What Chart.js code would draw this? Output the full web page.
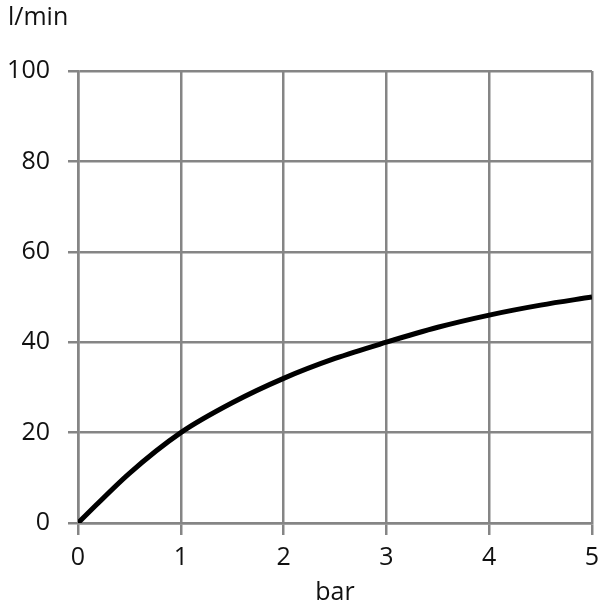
<!DOCTYPE html>
<html>
<head>
<meta charset="utf-8">
<script src="https://cdn.jsdelivr.net/npm/chart.js@4"></script>
<style>
  html, body { margin: 0; padding: 0; background: #fff; }
  #wrap { width: 600px; height: 608px; }
</style>
</head>
<body>
<div id="wrap"><canvas id="flow-chart" width="600" height="608"></canvas></div>
<script>
const pressure = [0, 0.5, 1, 1.5, 2, 2.5, 3, 3.5, 4, 4.5, 5];
const flow = [0, 11, 20, 26.6, 32, 36.4, 40, 43.3, 46, 48.2, 50];
const xTitle = 'bar';
const yTitle = 'l/min';

const gridColor = '#858585';
const font = { family: "'Open Sans', 'Liberation Sans', sans-serif", size: 25, weight: 'normal' };

const points = pressure.map((p, i) => ({ x: p, y: flow[i] }));

const config = {
  type: 'line',
  data: {
    datasets: [{
      data: points,
      borderColor: '#000',
      borderWidth: 5,
      pointRadius: 0,
      cubicInterpolationMode: 'monotone',
      fill: false
    }]
  },
  options: {
    responsive: false,
    animation: false,
    layout: { padding: { left: 8, right: 8, top: 0, bottom: 0 } },
    plugins: {
      legend: { display: false },
      tooltip: { enabled: false },
      title: {
        display: true,
        text: yTitle,
        align: 'start',
        color: '#111',
        font: font,
        padding: { top: 3, bottom: 38 }
      }
    },
    scales: {
      x: {
        type: 'linear',
        min: 0,
        max: 5,
        ticks: { stepSize: 1, color: '#111', font: font, padding: 8, maxRotation: 0 },
        grid: { color: gridColor, lineWidth: 2.5, tickLength: 12, tickColor: gridColor },
        border: { color: gridColor, width: 2.5 },
        title: { display: true, text: xTitle, color: '#111', font: font, padding: { top: -6, bottom: 0 } },
        afterFit: s => { s.height = 85; s.paddingRight = 0; s.paddingLeft = 0; }
      },
      y: {
        min: 0,
        max: 100,
        ticks: { stepSize: 20, color: '#111', font: font, padding: 18 },
        grid: { color: gridColor, lineWidth: 2.5, tickLength: 10, tickColor: gridColor },
        border: { color: gridColor, width: 2.5 },
        afterFit: s => { s.width = 70; }
      }
    }
  }
};

new Chart(document.getElementById('flow-chart'), config);
</script>
</body>
</html>
